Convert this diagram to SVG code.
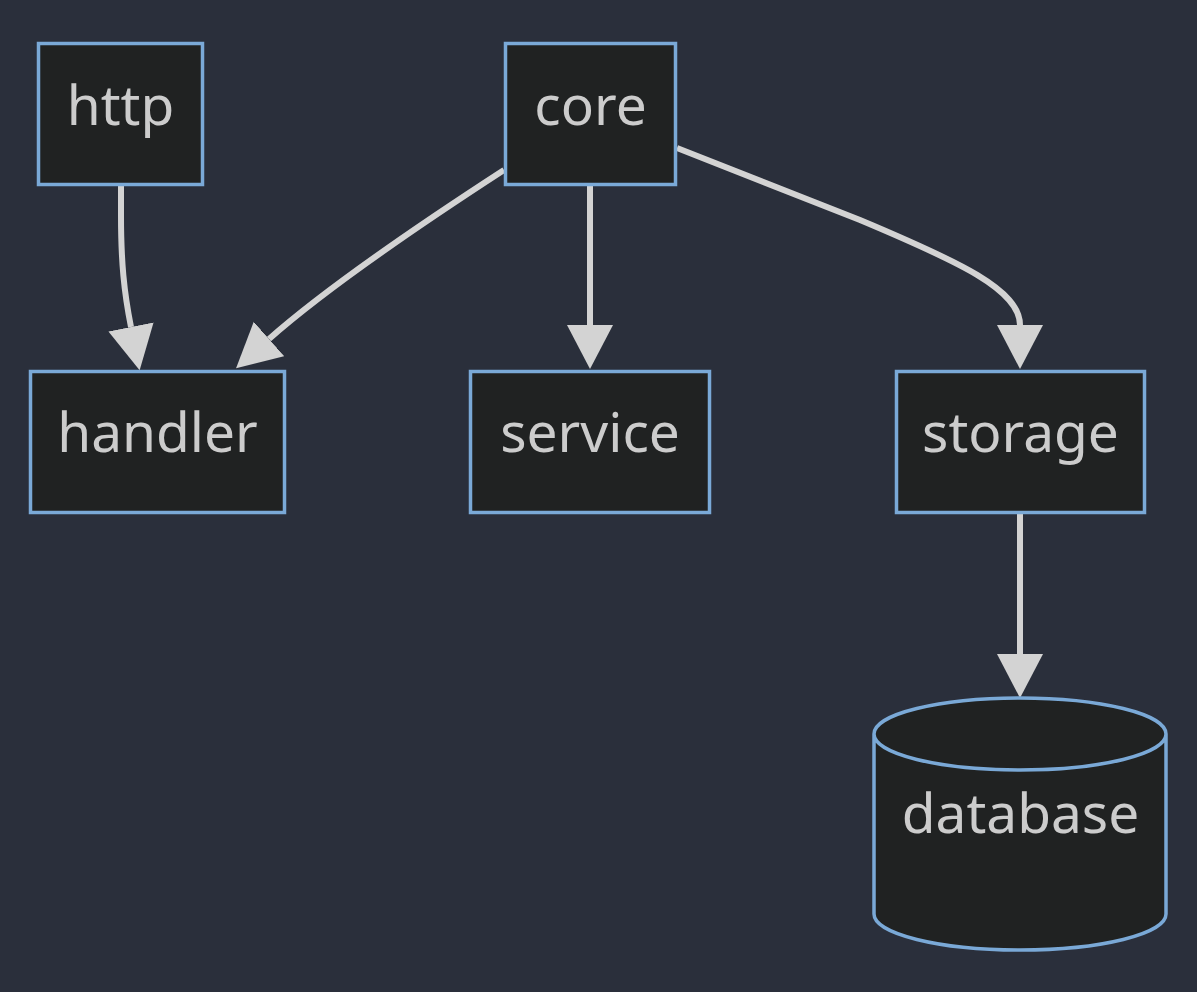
<svg xmlns="http://www.w3.org/2000/svg" width="1197" height="992" viewBox="0 0 1197 992">
<style>
.node rect, .node path { fill: #202222; stroke: #7aa9d7; stroke-width: 3.5; }
.node text { fill: #cccccc; font-family: "Noto Sans", "Open Sans", sans-serif; font-size: 55px; text-anchor: middle; }
.edge { fill: none; stroke: #d3d3d3; stroke-width: 6; }
</style>
<defs>
<marker id="arrow" markerUnits="userSpaceOnUse" markerWidth="46" markerHeight="48" refX="0" refY="23" orient="auto" viewBox="0 0 46 46">
<path d="M0,0 L44,23 L0,46 z" fill="#d3d3d3"/>
</marker>
</defs>
<rect x="0" y="0" width="1197" height="992" fill="#2a2f3b"/>
<g id="edges">
<path class="edge" d="M121,186 L121,215 C121,262 124,292 131,327" marker-end="url(#arrow)"/>
<path class="edge" d="M504,170 C430,218 330,285 269,339" marker-end="url(#arrow)"/>
<path class="edge" d="M590,186 L590,325" marker-end="url(#arrow)"/>
<path class="edge" d="M677,148 L860,220 C960,262 1020,290 1020,325" marker-end="url(#arrow)"/>
<path class="edge" d="M1020,514 L1020,654" marker-end="url(#arrow)"/>
</g>
<g id="node-http" class="node">
<rect x="38.5" y="43.5" width="164" height="141"/>
<text x="120.5" y="125">http</text>
</g>
<g id="node-core" class="node">
<rect x="505.5" y="43.5" width="170" height="141"/>
<text x="590.5" y="125">core</text>
</g>
<g id="node-handler" class="node">
<rect x="30.5" y="371.5" width="254" height="141"/>
<text x="157.5" y="452">handler</text>
</g>
<g id="node-service" class="node">
<rect x="470.5" y="371.5" width="239" height="141"/>
<text x="590" y="452">service</text>
</g>
<g id="node-storage" class="node">
<rect x="896.5" y="371.5" width="248" height="141"/>
<text x="1020.5" y="452">storage</text>
</g>
<g id="node-database" class="node">
<path d="M874,734 a146,36 0 0 0 292,0 a146,36 0 0 0 -292,0 l0,180 a146,36 0 0 0 292,0 l0,-180"/>
<text x="1020.5" y="833">database</text>
</g>
</svg>
